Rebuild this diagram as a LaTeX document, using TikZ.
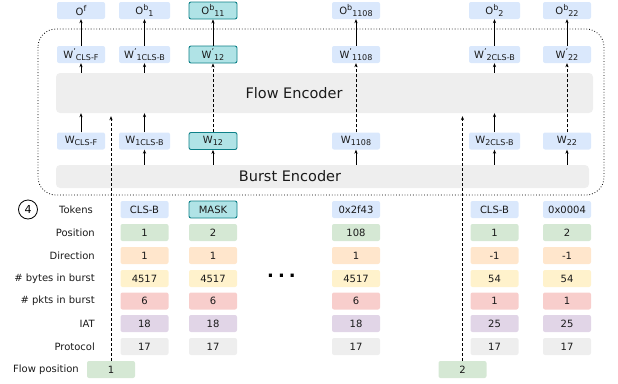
\documentclass[tikz,border=0pt]{standalone}
\usepackage{fontspec}
\setmainfont{DejaVu Sans}
\usetikzlibrary{arrows.meta,calc}
\definecolor{cblue}{HTML}{DAE8FC}
\definecolor{cteal}{HTML}{B0E3E6}
\definecolor{cteald}{HTML}{0E8088}
\definecolor{cgreen}{HTML}{D5E8D4}
\definecolor{corange}{HTML}{FFE6CC}
\definecolor{cyellow}{HTML}{FFF2CC}
\definecolor{cred}{HTML}{F8CECC}
\definecolor{cpurple}{HTML}{E1D5E7}
\definecolor{cgray}{HTML}{EEEEEE}
\definecolor{ctext}{HTML}{1A1A1A}
\newcommand\lo[1]{\raisebox{-0.35ex}{\fontsize{8}{8}\selectfont #1}}
\newcommand\hi[1]{\raisebox{0.75ex}{\fontsize{8}{8}\selectfont #1}}
\tikzset{
  cell/.style={rectangle, rounded corners=2pt, minimum width=48pt, minimum height=17pt,
    inner sep=0pt, font=\fontsize{10}{12}\selectfont, text=ctext, fill=#1},
  wide/.style={minimum width=51pt},
  hl/.style={fill=cteal, draw=cteald, line width=0.9pt},
  enc/.style={rectangle, rounded corners=4pt, fill=cgray, inner sep=0pt},
  enctext/.style={inner sep=0pt, font=\fontsize{14.5}{16}\selectfont, text=ctext},
  lab/.style={anchor=east, inner sep=0pt, font=\fontsize{10}{12}\selectfont, text=ctext},
  arr/.style={-{Stealth[length=4pt,width=3.2pt]}, line width=0.8pt, black},
  darr/.style={arr, dashed, dash pattern=on 3pt off 2pt}
}
\begin{document}
\begin{tikzpicture}[x=1pt,y=-1pt]
\useasboundingbox (0,0) rectangle (618,383);
% encoders
\node[enc, minimum width=537pt, minimum height=40pt] (fe) at (324.5,93) {};
\node[enctext] (fet) at (294,93) {Flow Encoder};
\node[enc, minimum width=533pt, minimum height=23pt] (be) at (322.5,176.5) {};
\node[enctext] (bet) at (290,176.5) {Burst Encoder};
\draw[dotted, line width=0.8pt, rounded corners=18pt] (38,29) rectangle (604,195);
% outputs
\node[cell=cblue] (o1) at (81,10.5) {O\hi{f}};
\node[cell=cblue, wide] (o2) at (144.5,10.5) {O\hi{b}\lo{1}};
\node[cell=cteal, hl] (o3) at (213,10.5) {O\hi{b}\lo{11}};
\node[cell=cblue] (o4) at (356,10.5) {O\hi{b}\lo{1108}};
\node[cell=cblue, wide] (o5) at (494.5,10.5) {O\hi{b}\lo{2}};
\node[cell=cblue] (o6) at (567,10.5) {O\hi{b}\lo{22}};
% W'
\node[cell=cblue] (p1) at (81,54.5) {W\hi{'}\lo{CLS-F}};
\node[cell=cblue, wide] (p2) at (144.5,54.5) {W\hi{'}\lo{1CLS-B}};
\node[cell=cteal, hl] (p3) at (213,54.5) {W\hi{'}\lo{12}};
\node[cell=cblue] (p4) at (356,54.5) {W\hi{'}\lo{1108}};
\node[cell=cblue, wide] (p5) at (494.5,54.5) {W\hi{'}\lo{2CLS-B}};
\node[cell=cblue] (p6) at (567,54.5) {W\hi{'}\lo{22}};
% W
\node[cell=cblue] (w1) at (81,141) {W\lo{CLS-F}};
\node[cell=cblue, wide] (w2) at (144.5,141) {W\lo{1CLS-B}};
\node[cell=cteal, hl] (w3) at (213,141) {W\lo{12}};
\node[cell=cblue] (w4) at (356,141) {W\lo{1108}};
\node[cell=cblue, wide] (w5) at (494.5,141) {W\lo{2CLS-B}};
\node[cell=cblue] (w6) at (567,141) {W\lo{22}};
% arrows W' -> O
\foreach \i in {1,...,6} \draw[arr] (p\i.north) -- (o\i.south);
% burst encoder -> W
\foreach \i in {2,...,6} \draw[arr] (w\i |- be.north) -- (w\i.south);
% W -> flow encoder, flow encoder -> W'
\foreach \i in {1,2,5} {
  \draw[arr] (w\i.north) -- (w\i |- fe.south);
  \draw[arr] (p\i |- fe.north) -- (p\i.south);
}
\foreach \i in {3,4,6} \draw[darr] (w\i.north) -- (p\i.south);
% left labels
\node[circle, draw, line width=0.8pt, minimum size=19pt, inner sep=0pt, font=\fontsize{11}{12}\selectfont] (n4) at (28,209.5) {4};
\node[lab] (lt) at (93,209.5) {Tokens};
\node[lab] (lp) at (95,232.5) {Position};
\node[lab] (ld) at (95,255.5) {Direction};
\node[lab] (lb) at (95,278.5) {\# bytes in burst};
\node[lab] (lk) at (95,301) {\# pkts in burst};
\node[lab] (li) at (95,323.5) {IAT};
\node[lab] (lr) at (95,346.5) {Protocol};
\node[lab] (lf) at (79,369.5) {Flow position};
% token columns
\foreach \x/\t/\p/\d/\b/\k/\a/\r/\n in {144.5/CLS-B/1/1/4517/6/18/17/a, 356/0x2f43/108/1/4517/6/18/17/c, 494.5/CLS-B/1/-1/54/1/25/17/d, 567/0x0004/2/-1/54/1/25/17/e} {
  \node[cell=cblue] (t\n) at (\x,209.5) {\t};
  \node[cell=cgreen] (ps\n) at (\x,232.5) {\p};
  \node[cell=corange] (dr\n) at (\x,255.5) {\d};
  \node[cell=cyellow] (by\n) at (\x,278.5) {\b};
  \node[cell=cred] (pk\n) at (\x,301) {\k};
  \node[cell=cpurple] (ia\n) at (\x,323.5) {\a};
  \node[cell=cgray] (pr\n) at (\x,346.5) {\r};
}
\node[cell=cteal, hl] (tb) at (213,209.5) {MASK};
\node[cell=cgreen] (psb) at (213,232.5) {2};
\node[cell=corange] (drb) at (213,255.5) {1};
\node[cell=cyellow] (byb) at (213,278.5) {4517};
\node[cell=cred] (pkb) at (213,301) {6};
\node[cell=cpurple] (iab) at (213,323.5) {18};
\node[cell=cgray] (prb) at (213,346.5) {17};
\node[inner sep=0pt, font=\fontsize{18}{18}\selectfont\bfseries] (dots) at (281.5,276) {.\hspace{4pt}.\hspace{4pt}.};
% flow positions
\node[cell=cgreen] (fp1) at (111,369.5) {1};
\node[cell=cgreen] (fp2) at (462.5,369.5) {2};
\coordinate (fa1) at ($(fp1 |- fe.south)+(0,3)$);
\coordinate (fa2) at ($(fp2 |- fe.south)+(0,3)$);
\draw[darr] (fp1.north) -- (fa1);
\draw[darr] (fp2.north) -- (fa2);
\end{tikzpicture}
\end{document}
